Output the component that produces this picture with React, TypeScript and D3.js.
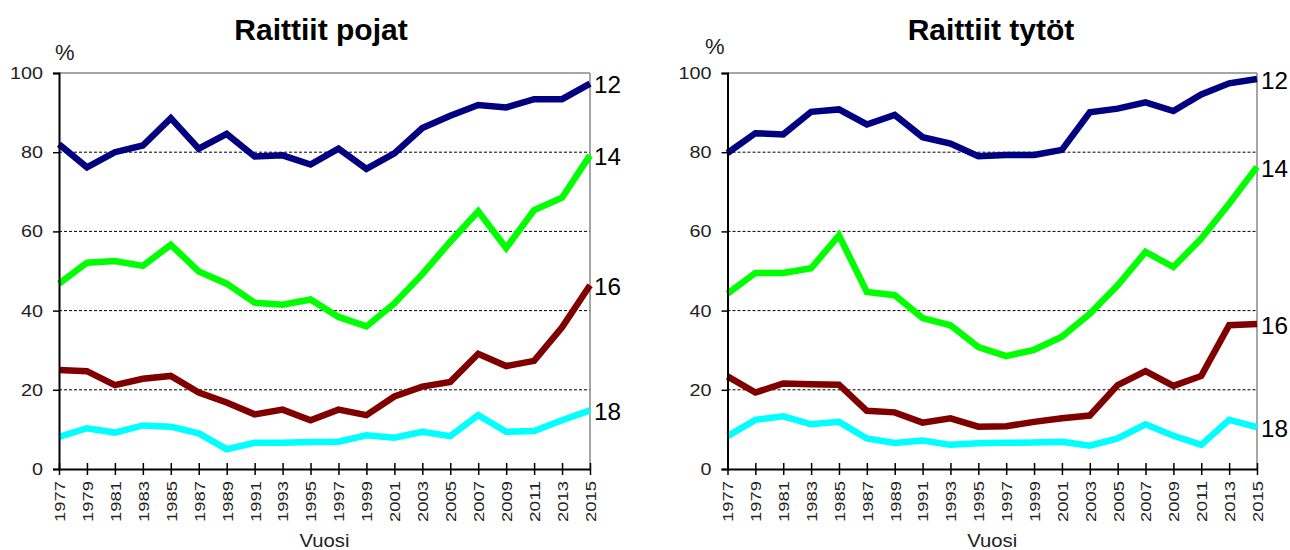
import { useEffect, useRef } from 'react';
import * as d3 from 'd3';

const years = [1977, 1979, 1981, 1983, 1985, 1987, 1989, 1991, 1993, 1995, 1997, 1999, 2001, 2003, 2005, 2007, 2009, 2011, 2013, 2015];
const yTicks = [0, 20, 40, 60, 80, 100];
const ageLabels = ['12', '14', '16', '18'];
const seriesColors = ['#000080', '#00ff00', '#800000', '#00ffff'];

const boys12 = [82, 76.2, 80, 81.7, 88.6, 80.9, 84.6, 78.9, 79.2, 76.9, 80.9, 75.8, 79.7, 86.1, 89.2, 91.9, 91.3, 93.4, 93.4, 97.3];
const boys14 = [46.8, 52.1, 52.5, 51.3, 56.6, 49.9, 46.8, 42, 41.5, 42.8, 38.4, 36, 41.8, 49.2, 57.4, 65.1, 55.8, 65.4, 68.5, 79.2];
const boys16 = [25, 24.7, 21.2, 22.8, 23.5, 19.3, 16.8, 13.8, 15, 12.3, 15, 13.6, 18.3, 20.8, 22, 29.1, 26, 27.3, 35.8, 46.4];
const boys18 = [8.1, 10.3, 9.2, 11, 10.7, 9, 5, 6.6, 6.6, 6.8, 6.9, 8.5, 7.9, 9.4, 8.3, 13.6, 9.4, 9.6, 12.3, 14.8];

const girls12 = [79.8, 84.8, 84.5, 90.2, 90.8, 87, 89.4, 83.8, 82.2, 79, 79.3, 79.3, 80.6, 90.1, 91, 92.6, 90.4, 94.6, 97.4, 98.5];
const girls14 = [44.3, 49.5, 49.5, 50.7, 59, 44.7, 43.9, 38.1, 36.3, 30.8, 28.5, 30.1, 33.4, 39.2, 46.4, 54.8, 51, 58.2, 67, 76.3];
const girls16 = [23.4, 19.3, 21.6, 21.4, 21.3, 14.7, 14.3, 11.7, 12.8, 10.7, 10.8, 11.9, 12.8, 13.5, 21.2, 24.7, 21, 23.5, 36.3, 36.6];
const girls18 = [8.3, 12.4, 13.3, 11.3, 11.9, 7.7, 6.6, 7.2, 6.1, 6.5, 6.6, 6.7, 6.9, 5.9, 7.7, 11.3, 8.4, 6.1, 12.4, 10.6];

const boysSeries = [boys12, boys14, boys16, boys18];
const girlsSeries = [girls12, girls14, girls16, girls18];

const FONT = 'Arial, "Liberation Sans", Helvetica, sans-serif';

interface PanelOpts {
  left: number;
  right: number;
  title: string;
  titleX: number;
  pctX: number;
  pctY: number;
  series: number[][];
}

export default function App() {
  const svgRef = useRef<SVGSVGElement>(null);

  useEffect(() => {
    if (!svgRef.current) return;
    const svg = d3.select(svgRef.current);
    svg.selectAll('*').remove();

    const drawPanel = ({ left, right, title, titleX, pctX, pctY, series }: PanelOpts) => {
      const top = 73;
      const bottom = 469;

      const x = d3.scaleLinear().domain([1977, 2015]).range([left, right]);
      const y = d3.scaleLinear().domain([0, 100]).range([bottom, top]);

      const g = svg.append('g');

      // gridlines
      g.selectAll('line.grid')
        .data([20, 40, 60, 80])
        .join('line')
        .attr('class', 'grid')
        .attr('x1', left)
        .attr('x2', right)
        .attr('y1', d => y(d))
        .attr('y2', d => y(d))
        .attr('stroke', '#000')
        .attr('stroke-width', 1)
        .attr('stroke-dasharray', '3,2');

      // top and right frame (grey)
      g.append('line')
        .attr('x1', left).attr('x2', right)
        .attr('y1', top).attr('y2', top)
        .attr('stroke', '#888').attr('stroke-width', 1.5);
      g.append('line')
        .attr('x1', right).attr('x2', right)
        .attr('y1', top).attr('y2', bottom)
        .attr('stroke', '#888').attr('stroke-width', 1.5);

      // series lines
      const line = d3.line<number>()
        .x((_, i) => x(years[i]))
        .y(d => y(d));

      series.forEach((vals, si) => {
        g.append('path')
          .datum(vals)
          .attr('fill', 'none')
          .attr('stroke', seriesColors[si])
          .attr('stroke-width', 6.5)
          .attr('d', line);

        g.append('text')
          .attr('x', right + 4)
          .attr('y', y(vals[vals.length - 1]))
          .attr('dy', '0.42em')
          .attr('textLength', 27)
          .attr('lengthAdjust', 'spacingAndGlyphs')
          .style('font-family', FONT)
          .style('font-size', '23px')
          .style('fill', '#000')
          .text(ageLabels[si]);
      });

      // y axis
      const yAxis = g.append('g')
        .attr('transform', `translate(${left},0)`)
        .call(d3.axisLeft(y).tickValues(yTicks).tickSize(6).tickPadding(10).tickFormat(d => String(d)));
      yAxis.select('.domain').attr('stroke', '#000').attr('stroke-width', 2);
      yAxis.selectAll('.tick line').attr('stroke', '#000').attr('stroke-width', 1.5);
      yAxis.selectAll<SVGTextElement, number>('text')
        .attr('textLength', d => String(d).length * 11)
        .attr('lengthAdjust', 'spacingAndGlyphs')
        .style('font-family', FONT)
        .style('font-size', '17px')
        .style('fill', '#222');

      // x axis
      const xAxis = g.append('g')
        .attr('transform', `translate(0,${bottom})`)
        .call(d3.axisBottom(x).tickValues(years).tickSizeInner(6).tickSizeOuter(0).tickFormat(d => String(d)));
      xAxis.select('.domain').attr('stroke', '#000').attr('stroke-width', 2);
      xAxis.selectAll('.tick line')
        .attr('y1', -6)
        .attr('stroke', '#000')
        .attr('stroke-width', 1.5);
      xAxis.selectAll('text')
        .attr('transform', 'rotate(-90)')
        .attr('text-anchor', 'end')
        .attr('x', -12)
        .attr('y', 0)
        .attr('dy', '0.36em')
        .attr('textLength', 41)
        .attr('lengthAdjust', 'spacingAndGlyphs')
        .style('font-family', FONT)
        .style('font-size', '15px')
        .style('fill', '#222');

      // title
      svg.append('text')
        .attr('x', titleX)
        .attr('y', 40)
        .attr('text-anchor', 'middle')
        .style('font-family', FONT)
        .style('font-weight', 'bold')
        .style('font-size', '30px')
        .style('fill', '#000')
        .text(title);

      svg.append('text')
        .attr('x', pctX)
        .attr('y', pctY)
        .style('font-family', FONT)
        .style('font-size', '22px')
        .style('fill', '#222')
        .text('%');

      svg.append('text')
        .attr('x', (left + right) / 2)
        .attr('y', 547)
        .attr('text-anchor', 'middle')
        .attr('textLength', 50)
        .attr('lengthAdjust', 'spacingAndGlyphs')
        .style('font-family', FONT)
        .style('font-size', '19px')
        .style('fill', '#222')
        .text('Vuosi');
    };

    drawPanel({ left: 59, right: 590, title: 'Raittiit pojat', titleX: 321, pctX: 55, pctY: 60, series: boysSeries });
    drawPanel({ left: 727.5, right: 1257, title: 'Raittiit tytöt', titleX: 991, pctX: 705, pctY: 54, series: girlsSeries });
  }, []);

  return (
    <div style={{ position: 'absolute', left: 0, top: 0, background: '#fff' }}>
      <svg ref={svgRef} width={1290} height={550}></svg>
    </div>
  );
}
